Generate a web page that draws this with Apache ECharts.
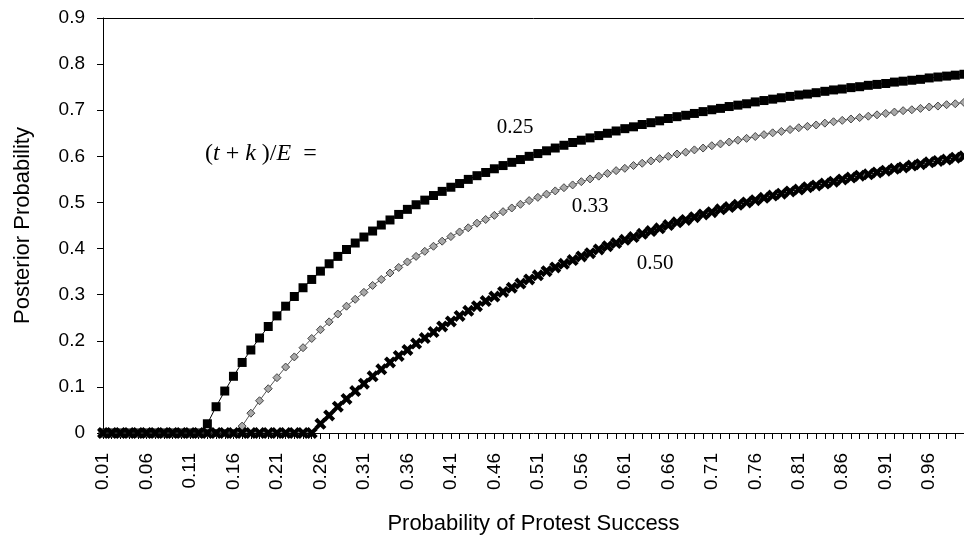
<!DOCTYPE html>
<html><head><meta charset="utf-8">
<script src="https://cdn.jsdelivr.net/npm/echarts@6/dist/echarts.min.js"></script>
<style>html,body{margin:0;padding:0;background:#fff}#c{width:964px;height:544px}</style>
</head><body><div id="c"></div>
<script>
const categories = ['0.01','0.02','0.03','0.04','0.05','0.06','0.07','0.08','0.09','0.10',
'0.11','0.12','0.13','0.14','0.15','0.16','0.17','0.18','0.19','0.20',
'0.21','0.22','0.23','0.24','0.25','0.26','0.27','0.28','0.29','0.30',
'0.31','0.32','0.33','0.34','0.35','0.36','0.37','0.38','0.39','0.40',
'0.41','0.42','0.43','0.44','0.45','0.46','0.47','0.48','0.49','0.50',
'0.51','0.52','0.53','0.54','0.55','0.56','0.57','0.58','0.59','0.60',
'0.61','0.62','0.63','0.64','0.65','0.66','0.67','0.68','0.69','0.70',
'0.71','0.72','0.73','0.74','0.75','0.76','0.77','0.78','0.79','0.80',
'0.81','0.82','0.83','0.84','0.85','0.86','0.87','0.88','0.89','0.90',
'0.91','0.92','0.93','0.94','0.95','0.96','0.97','0.98','0.99','1.00'];

const yTickLabels = ['0','0.1','0.2','0.3','0.4','0.5','0.6','0.7','0.8','0.9'];

const seriesNames = ['0.25','0.33','0.50'];

const s025 = [0,0,0,0,0,0,0,0,0,0,0,0,
0.020,0.057,0.091,0.123,0.153,0.180,0.206,0.231,0.254,0.275,
0.296,0.315,0.333,0.351,0.367,0.383,0.398,0.412,0.425,0.438,
0.451,0.462,0.474,0.485,0.495,0.505,0.515,0.524,0.533,0.541,
0.550,0.558,0.565,0.573,0.580,0.587,0.593,0.600,0.606,0.612,
0.618,0.624,0.630,0.635,0.640,0.645,0.650,0.655,0.660,0.664,
0.669,0.673,0.677,0.682,0.686,0.689,0.693,0.697,0.701,0.704,
0.708,0.711,0.714,0.718,0.721,0.724,0.727,0.730,0.733,0.735,
0.738,0.741,0.744,0.746,0.749,0.751,0.754,0.756,0.758,0.761,
0.763,0.765,0.767,0.770,0.772,0.774,0.776,0.778];

const s033 = [0,0,0,0,0,0,0,0,0,0,0,0,0,0,0,0,
0.015,0.043,0.070,0.096,0.120,0.143,
0.165,0.185,0.205,0.224,0.241,0.258,0.275,0.290,0.305,0.320,
0.333,0.347,0.359,0.371,0.383,0.394,0.405,0.416,0.426,0.436,
0.445,0.455,0.463,0.472,0.480,0.488,0.496,0.504,0.511,0.518,
0.525,0.532,0.538,0.545,0.551,0.557,0.563,0.569,0.574,0.580,
0.585,0.590,0.595,0.600,0.605,0.609,0.614,0.618,0.623,0.627,
0.631,0.635,0.639,0.643,0.647,0.651,0.654,0.658,0.662,0.665,
0.668,0.672,0.675,0.678,0.681,0.684,0.687,0.690,0.693,0.696,
0.699,0.701,0.704,0.707,0.709,0.712,0.714,0.717];

const s050 = [0,0,0,0,0,0,0,0,0,0,0,0,0,0,0,0,0,0,0,0,0,0,0,0,0,
0.020,0.038,0.057,0.074,0.091,0.107,0.123,
0.138,0.153,0.167,0.180,0.194,0.206,0.219,0.231,0.242,0.254,
0.265,0.275,0.286,0.296,0.306,0.315,0.324,0.333,0.342,0.351,
0.359,0.367,0.375,0.383,0.390,0.398,0.405,0.412,0.419,0.425,
0.432,0.438,0.444,0.451,0.457,0.462,0.468,0.474,0.479,0.485,
0.490,0.495,0.500,0.505,0.510,0.515,0.519,0.524,0.528,0.533,
0.537,0.541,0.545,0.550,0.554,0.558,0.561,0.565,0.569,0.573,
0.576,0.580,0.583,0.587,0.590,0.593,0.597,0.600];

const chart = echarts.init(document.getElementById('c'), null, {renderer:'canvas'});
const xPath = 'path://M0,2.4 L2.4,0 L5,2.6 L7.6,0 L10,2.4 L7.4,5 L10,7.6 L7.6,10 L5,7.4 L2.4,10 L0,7.6 L2.6,5 Z';
const sans = 'Liberation Sans, Arial, sans-serif';
const serif = 'Liberation Serif, Times New Roman, serif';

chart.setOption({
  animation:false,
  backgroundColor:'#fff',
  grid:{left:103, top:18, right:0, bottom:111, containLabel:false},
  xAxis:[{
    type:'category', data:categories, boundaryGap:false,
    name:'Probability of Protest Success', nameLocation:'middle', nameGap:80,
    nameTextStyle:{fontFamily:sans, fontSize:22, color:'#000'},
    axisLine:{lineStyle:{color:'#000', width:1}},
    axisTick:{show:true, interval:0, length:6, lineStyle:{color:'#000'}},
    axisLabel:{interval:4, rotate:90, margin:20, fontFamily:sans, fontSize:19, color:'#000'},
    splitLine:{show:false}
  },{
    type:'category', data:categories, boundaryGap:false, position:'top',
    axisLine:{show:true, lineStyle:{color:'#000', width:1}},
    axisTick:{show:false}, axisLabel:{show:false}, splitLine:{show:false}
  }],
  yAxis:{
    type:'value', min:0, max:0.9, interval:0.1,
    name:'Posterior Probability', nameLocation:'middle', nameGap:69, nameRotate:90,
    nameTextStyle:{fontFamily:sans, fontSize:22, color:'#000'},
    axisLine:{show:true, lineStyle:{color:'#000', width:1}},
    axisTick:{show:true, length:6, lineStyle:{color:'#000'}},
    axisLabel:{margin:18, fontFamily:sans, fontSize:19, color:'#000',
      formatter:function(v){return yTickLabels[Math.round(v*10)];}},
    splitLine:{show:false}
  },
  series:[
    {name:seriesNames[0], type:'line', data:s025, symbol:'rect', symbolSize:9, showAllSymbol:true,
     itemStyle:{color:'#000'}, lineStyle:{color:'#000', width:1}, z:2},
    {name:seriesNames[1], type:'line', data:s033, symbol:'diamond', symbolSize:8, showAllSymbol:true,
     itemStyle:{color:'#a8a8a8', borderColor:'#444', borderWidth:1},
     lineStyle:{color:'#555', width:1}, z:3},
    {name:seriesNames[2], type:'line', data:s050, symbol:xPath, symbolSize:12, showAllSymbol:true,
     itemStyle:{color:'#000'}, lineStyle:{color:'#000', width:1}, z:4}
  ],
  graphic:[
    {type:'text', left:205, top:142, style:{text:'({i|t} + {i|k} )/{i|E}  =', fontFamily:serif, fontSize:24, fill:'#000',
      rich:{i:{fontStyle:'italic', fontFamily:serif, fontSize:24}}}},
    {type:'text', x:515, y:127, style:{text:seriesNames[0], fontFamily:serif, fontSize:21, fill:'#000', align:'center', verticalAlign:'middle'}},
    {type:'text', x:590, y:206, style:{text:seriesNames[1], fontFamily:serif, fontSize:21, fill:'#000', align:'center', verticalAlign:'middle'}},
    {type:'text', x:655, y:263, style:{text:seriesNames[2], fontFamily:serif, fontSize:21, fill:'#000', align:'center', verticalAlign:'middle'}}
  ]
});
</script></body></html>
